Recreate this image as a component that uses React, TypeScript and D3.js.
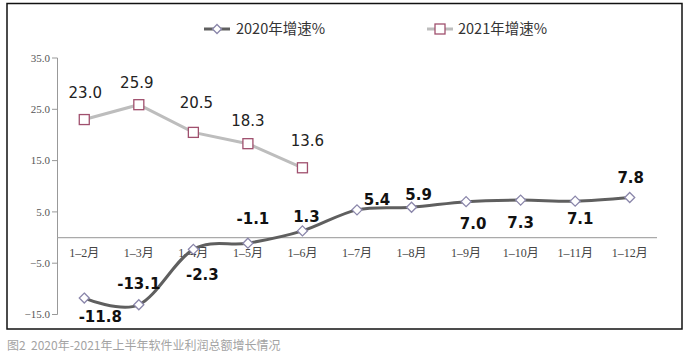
import React from "react";
import * as d3 from "d3";

const categories = ["1–2月", "1–3月", "1–4月", "1–5月", "1–6月", "1–7月", "1–8月", "1–9月", "1–10月", "1–11月", "1–12月"];
const values2020 = [-11.8, -13.1, -2.3, -1.1, 1.3, 5.4, 5.9, 7.0, 7.3, 7.1, 7.8];
const values2021 = [23.0, 25.9, 20.5, 18.3, 13.6];
const yTicks = [-15, -5, 5, 15, 25, 35];
const seriesNames = ["2020年增速%", "2021年增速%"];
const caption = "图2\u00a0\u00a02020年-2021年上半年软件业利润总额增长情况";

// label offsets (layout, not data)
const off2020: [number, number][] = [[16, 19], [0, -21], [9, 25], [5, -25], [4, -14], [20, -10], [7, -13], [7, 22], [0, 22], [5, 17], [1, -20]];
const off2021: [number, number][] = [[1, -27], [-2, -22], [3, -30], [0, -23], [5, -27]];

const W = 689, H = 354;

export default function App() {
  const x = d3.scaleBand().domain(categories).range([57, 657]);
  const y = d3.scaleLinear().domain([-15, 35]).range([314.5, 58]);
  const cx = (i: number) => (x(categories[i]) as number) + x.bandwidth() / 2;

  const line2020 = d3.line<number>().x((_, i) => cx(i)).y((d) => y(d)).curve(d3.curveCardinal.tension(0));
  const line2021 = d3.line<number>().x((_, i) => cx(i)).y((d) => y(d));

  const diamond = (px: number, py: number, r = 5) => `M${px},${py - r}L${px + r},${py}L${px},${py + r}L${px - r},${py}Z`;
  const fmt = (v: number) => (v < 0 ? "-" : "") + Math.abs(v).toFixed(1);
  const fmtTick = (v: number) => (v < 0 ? "−" : "") + Math.abs(v).toFixed(1);

  return (
    <svg width={W} height={H} style={{ position: "absolute", left: 0, top: 0 }} xmlns="http://www.w3.org/2000/svg">
      <rect x={0} y={0} width={W} height={H} fill="#fff" />
      <rect x={7} y={3.5} width={675} height={325.5} fill="#fff" stroke="#111" strokeWidth={1.5} />

      {/* y axis */}
      <line x1={57.5} x2={57.5} y1={y(35)} y2={y(-15)} stroke="#999" strokeWidth={1} />
      {yTicks.map((t) => (
        <g key={t}>
          <line x1={52} x2={57.5} y1={y(t)} y2={y(t)} stroke="#999" />
          <text x={50} y={y(t)} dy="0.35em" textAnchor="end" fontFamily="Liberation Serif" fontSize={11} fill="#555">
            {fmtTick(t)}
          </text>
        </g>
      ))}
      {/* zero line */}
      <line x1={57.5} x2={657} y1={y(0)} y2={y(0)} stroke="#aaa" strokeWidth={1.2} />
      {categories.map((c, i) => (
        <text key={c} x={cx(i)} y={257} textAnchor="middle" fontFamily="Liberation Serif, Noto Sans CJK SC" fontSize={12} fill="#444">
          {c}
        </text>
      ))}

      {/* 2021 series */}
      <path d={line2021(values2021) as string} fill="none" stroke="#bdbdbd" strokeWidth={3} />
      {values2021.map((v, i) => (
        <rect key={i} x={cx(i) - 5} y={y(v) - 5} width={10} height={10} fill="#fff" stroke="#a0506e" strokeWidth={1.3} />
      ))}
      {values2021.map((v, i) => (
        <text key={"l" + i} x={cx(i) + off2021[i][0]} y={y(v) + off2021[i][1]} dy="0.36em" textAnchor="middle" fontFamily="DejaVu Sans" fontSize={15} fill="#222">
          {fmt(v)}
        </text>
      ))}

      {/* 2020 series */}
      <path d={line2020(values2020) as string} fill="none" stroke="#5f5f5f" strokeWidth={3} />
      {values2020.map((v, i) => (
        <path key={i} d={diamond(cx(i), y(v))} fill="#fff" stroke="#8a86aa" strokeWidth={1.3} />
      ))}
      {values2020.map((v, i) => (
        <text key={"l" + i} x={cx(i) + off2020[i][0]} y={y(v) + off2020[i][1]} dy="0.36em" textAnchor="middle" fontFamily="DejaVu Sans" fontWeight="bold" fontSize={15} fill="#111">
          {fmt(v)}
        </text>
      ))}

      {/* legend */}
      <line x1={204} x2={230} y1={29} y2={29} stroke="#5f5f5f" strokeWidth={3} />
      <path d={diamond(217, 29, 4.5)} fill="#fff" stroke="#8a86aa" strokeWidth={1.3} />
      <text x={236} y={29} dy="0.36em" fontFamily="Noto Sans CJK SC" fontSize={14.5} fill="#333">{seriesNames[0]}</text>
      <line x1={427} x2={453} y1={29} y2={29} stroke="#bdbdbd" strokeWidth={3} />
      <rect x={435} y={24} width={10} height={10} fill="#fff" stroke="#a0506e" strokeWidth={1.3} />
      <text x={458} y={29} dy="0.36em" fontFamily="Noto Sans CJK SC" fontSize={14.5} fill="#333">{seriesNames[1]}</text>

      {/* caption */}
      <text x={7} y={350} fontFamily="Noto Sans CJK SC" fontSize={12} fill="#a3a3a3">{caption}</text>
    </svg>
  );
}
